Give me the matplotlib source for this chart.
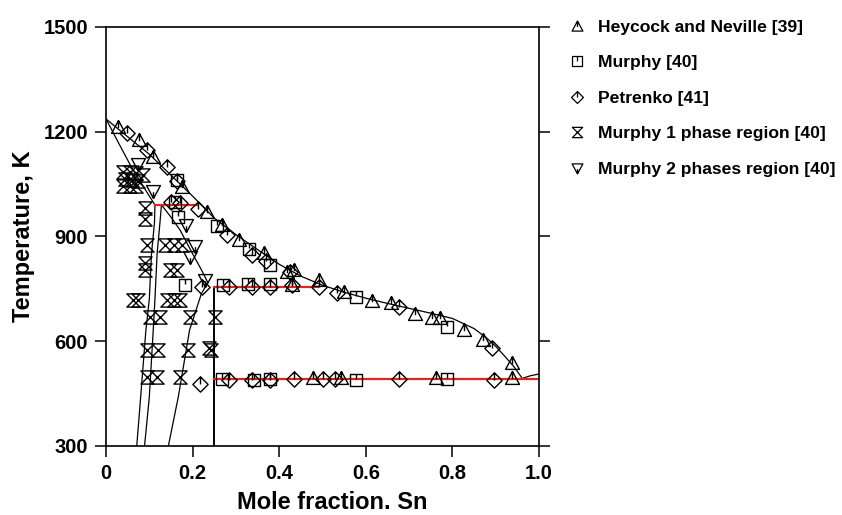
import matplotlib
matplotlib.use("Agg")
import matplotlib.pyplot as plt
from matplotlib.path import Path
from matplotlib.lines import Line2D

plt.rcParams['font.family'] = ['Liberation Sans', 'DejaVu Sans']
plt.rcParams['font.weight'] = 'bold'

# Phase boundary curves (mole fraction Sn, K)
liq_x = [0.0, 0.05, 0.10, 0.15, 0.20, 0.25, 0.30, 0.35, 0.40, 0.45, 0.50, 0.55, 0.60,
         0.65, 0.70, 0.75, 0.80, 0.85, 0.88, 0.90, 0.92, 0.942, 0.961]
liq_t = [1236, 1185, 1135, 1075, 1015, 952, 905, 862, 820, 786, 760, 740, 723,
         708, 694, 680, 665, 636, 608, 585, 558, 527, 494]
sn_liq_x = [0.965, 0.98, 1.0]
sn_liq_t = [495, 501, 506]
sol_x = [0.0, 0.03, 0.06, 0.09, 0.113]
sol_t = [1236, 1165, 1095, 1035, 990]
fcc_a_x = [0.113, 0.112, 0.105, 0.100, 0.092, 0.080, 0.071]
fcc_a_t = [990, 940, 850, 720, 630, 440, 300]
fcc_b_x = [0.128, 0.125, 0.118, 0.113, 0.109, 0.100, 0.089]
fcc_b_t = [990, 945, 850, 720, 630, 440, 300]
bcc_x = [0.128, 0.150, 0.171, 0.200, 0.220, 0.235]
bcc_t = [990, 955, 918, 850, 805, 768]
low_x = [0.235, 0.220, 0.193, 0.167, 0.144]
low_t = [768, 735, 632, 441, 300]
eps_x = [0.25, 0.25]
eps_t = [300, 755]

# Invariant lines (red)
inv_x = [[0.113, 0.21], [0.25, 0.49], [0.25, 1.0]]
inv_t = [[990, 990], [755, 755], [492, 492]]

# Experimental data
hey_x = [0.028, 0.077, 0.109, 0.175, 0.233, 0.267, 0.306, 0.364, 0.418, 0.433, 0.491,
         0.549, 0.614, 0.657, 0.714, 0.753, 0.771, 0.826, 0.871, 0.938,
         0.43, 0.479, 0.543, 0.761, 0.938]
hey_t = [1214, 1176, 1128, 1042, 971, 933, 890, 852, 799, 804, 775,
         742, 716, 710, 677, 666, 666, 632, 603, 537,
         762, 496, 494, 496, 496]
mur_x = [0.163, 0.160, 0.167, 0.256, 0.331, 0.379, 0.578, 0.788,
         0.183, 0.271, 0.329, 0.379,
         0.267, 0.341, 0.379, 0.578, 0.788]
mur_t = [1061, 999, 956, 930, 863, 818, 726, 641,
         761, 761, 764, 764,
         492, 490, 492, 490, 492]
pet_x = [0.048, 0.094, 0.140, 0.165, 0.150, 0.172, 0.213, 0.279, 0.337, 0.370, 0.425,
         0.533, 0.676, 0.892,
         0.221, 0.283, 0.337, 0.379, 0.429, 0.493,
         0.217, 0.283, 0.337, 0.379, 0.433, 0.501, 0.529, 0.677, 0.895]
pet_t = [1195, 1147, 1099, 1058, 997, 995, 978, 904, 847, 828, 799,
         737, 699, 580,
         756, 756, 756, 756, 760, 754,
         477, 490, 490, 490, 492, 492, 492, 492, 490]
one_x = [0.040, 0.055, 0.070, 0.085, 0.045, 0.060, 0.075, 0.040, 0.055, 0.070,
         0.090, 0.090, 0.094, 0.090, 0.090,
         0.136, 0.156, 0.175, 0.148, 0.163,
         0.063, 0.075, 0.140, 0.156, 0.171,
         0.102, 0.125, 0.194, 0.252,
         0.094, 0.121, 0.190, 0.237, 0.242,
         0.094, 0.117, 0.171]
one_t = [1085, 1085, 1080, 1075, 1065, 1062, 1058, 1045, 1045, 1045,
         980, 950, 875, 823, 804,
         875, 875, 875, 804, 804,
         718, 718, 718, 718, 718,
         670, 670, 670, 670,
         575, 575, 575, 580, 575,
         498, 498, 498]
two_x = [0.075, 0.109, 0.185, 0.206, 0.195, 0.229]
two_t = [1107, 1030, 933, 873, 840, 775]

labels = ["Heycock and Neville [39]", "Murphy [40]", "Petrenko [41]",
          "Murphy 1 phase region [40]", "Murphy 2 phases region [40]"]


def marker(outline, tick):
    verts = outline + [outline[0]]
    codes = [Path.MOVETO] + [Path.LINETO] * (len(outline) - 1) + [Path.CLOSEPOLY]
    if tick:
        verts = verts + tick
        codes = codes + [Path.MOVETO, Path.LINETO]
    return Path(verts, codes)


m_tri = marker([(-1, -0.85), (1, -0.85), (0, 1)], [(0, 1), (0, -0.1)])
m_sq = marker([(-1, -1), (1, -1), (1, 1), (-1, 1)], [(0, 1), (0, 0.1)])
m_dia = marker([(0, -1), (1, 0), (0, 1), (-1, 0)], [(0, 1), (0, 0)])
m_hour = marker([(-1, 1), (1, 1), (-1, -1), (1, -1)], None)
m_down = marker([(-1, 0.85), (1, 0.85), (0, -1)], [(0, -1), (0, -0.1)])

fig = plt.figure(figsize=(8.42, 5.15), dpi=100)
ax = fig.add_axes([0.1259, 0.134, 0.5143, 0.8142])

lw = 0.9
ax.plot(liq_x, liq_t, color='black', lw=lw)
ax.plot(sn_liq_x, sn_liq_t, color='black', lw=lw)
ax.plot(sol_x, sol_t, color='black', lw=lw)
ax.plot(fcc_a_x, fcc_a_t, color='black', lw=lw)
ax.plot(fcc_b_x, fcc_b_t, color='black', lw=lw)
ax.plot(bcc_x, bcc_t, color='black', lw=lw)
ax.plot(low_x, low_t, color='black', lw=lw)
ax.plot(eps_x, eps_t, color='black', lw=1.4)
for xs, ts in zip(inv_x, inv_t):
    ax.plot(xs, ts, color='#e3241b', lw=1.6)

series = [(hey_x, hey_t, m_tri, 10), (mur_x, mur_t, m_sq, 9), (pet_x, pet_t, m_dia, 11),
          (one_x, one_t, m_hour, 9.5), (two_x, two_t, m_down, 10)]
handles = []
for (xs, ts, m, ms), lab in zip(series, labels):
    ax.plot(xs, ts, ls='none', marker=m, ms=ms, mfc='none', mec='black', mew=1.0)
    handles.append(Line2D([], [], ls='none', marker=m, ms=ms * 0.78, mfc='none',
                          mec='black', mew=0.9, label=lab))

ax.set_xlim(0, 1.0)
ax.set_ylim(300, 1500)
ax.set_xticks([0, 0.2, 0.4, 0.6, 0.8, 1.0])
ax.set_xticklabels(["0", "0.2", "0.4", "0.6", "0.8", "1.0"])
ax.set_yticks([300, 600, 900, 1200, 1500])
ax.tick_params(direction='out', length=8, width=1.1, labelsize=14.5, pad=5)
ax.tick_params(axis='y', right=True)
for s in ax.spines.values():
    s.set_linewidth(1.2)
ax.set_xlabel("Mole fraction. Sn", fontsize=17, fontweight='bold', labelpad=6)
ax.xaxis.label.set_x(0.523)
ax.set_ylabel("Temperature, K", fontsize=17, fontweight='bold', labelpad=6)

fig.legend(handles=handles, loc='upper left', bbox_to_anchor=(0.663, 0.986),
           frameon=False, handlelength=0.8, handletextpad=0.75,
           labelspacing=1.16, borderaxespad=0.3, prop={'weight': 'bold', 'size': 12.6})

fig.savefig("out.png", dpi=100)
